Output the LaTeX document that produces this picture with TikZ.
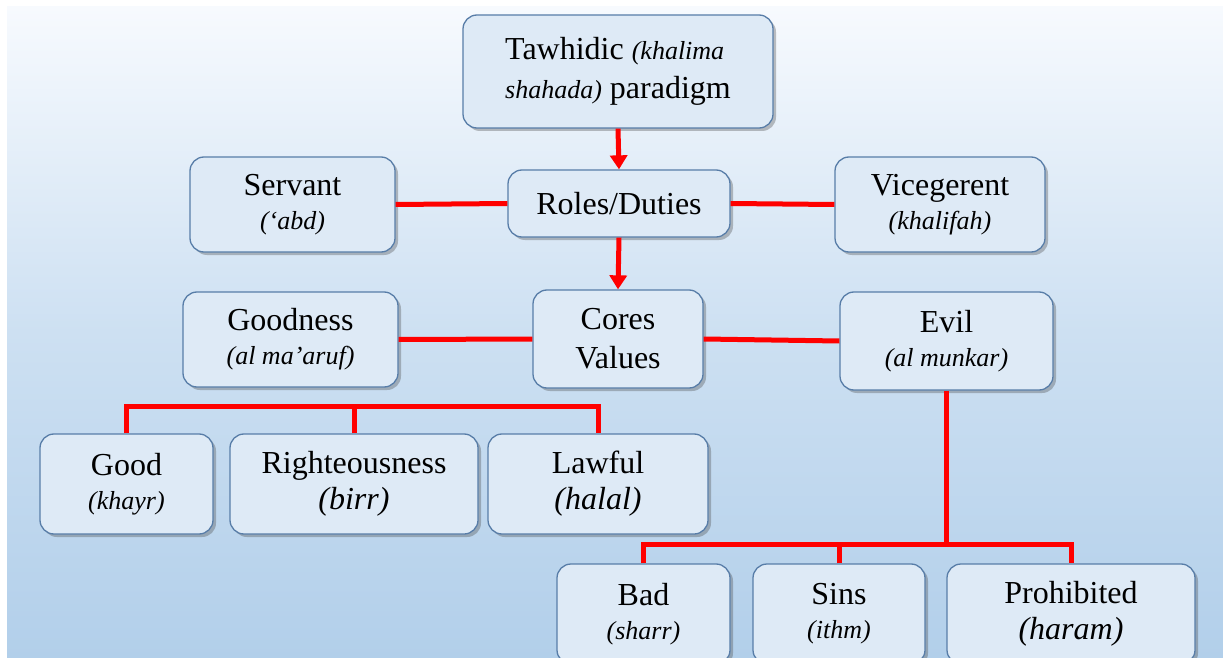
\documentclass[tikz,border=0pt]{standalone}
\usepackage{fontspec}
\setmainfont{Liberation Serif}
\usetikzlibrary{arrows.meta,shadows,calc}
\definecolor{boxfill}{RGB}{222,234,246}
\definecolor{boxline}{RGB}{88,125,168}
\definecolor{bgtop}{RGB}{247,250,254}
\definecolor{bgmid}{RGB}{205,224,242}
\definecolor{bgbot}{RGB}{178,207,234}
\definecolor{conred}{RGB}{255,0,0}
\newcommand\mainfs{\fontsize{32bp}{39bp}\selectfont}
\newcommand\smit[1]{{\fontsize{26bp}{32bp}\selectfont\itshape #1}}
\newcommand\bigit[1]{{\itshape #1}}
\newcommand\snl{\\[-5bp]}
\tikzset{
 box/.style={draw=boxline, line width=1.3bp, fill=boxfill, rounded corners=14bp,
   drop shadow={shadow xshift=3bp, shadow yshift=-3bp, opacity=0.35, fill=black!70},
   inner sep=0pt, font=\mainfs, align=center},
 conn/.style={draw=conred, line width=5bp},
 arr/.style={conn, -{Triangle[width=17bp,length=14bp]}},
}
\begin{document}
\begin{tikzpicture}[x=1bp,y=-1bp]
\useasboundingbox (0,0) rectangle (1223,658);
\shade[top color=bgtop, bottom color=bgbot, middle color=bgmid] (7,7) rectangle (1223,658);

\node[box, minimum width=310bp, minimum height=113bp, align=left] (taw) at (618,71.5)
  {Tawhidic \smit{(khalima}\\\smit{shahada)} paradigm};
\node[box, minimum width=205bp, minimum height=95bp] (serv) at (292.5,204.5)
  {Servant\snl\smit{(‘abd)}};
\node[box, minimum width=222bp, minimum height=67bp] (roles) at (619,203.5)
  {Roles/Duties};
\node[box, minimum width=210bp, minimum height=95bp] (vice) at (940,204.5)
  {Vicegerent\snl\smit{(khalifah)}};
\node[box, minimum width=215bp, minimum height=95bp] (goodn) at (290.5,339.5)
  {Goodness\snl\smit{(al ma’aruf)}};
\node[box, minimum width=170bp, minimum height=98bp] (cores) at (618,339)
  {Cores\\Values};
\node[box, minimum width=213bp, minimum height=98bp] (evil) at (946.5,341)
  {Evil\snl\smit{(al munkar)}};
\node[box, minimum width=173bp, minimum height=100bp] (good) at (126.5,484)
  {Good\snl\smit{(khayr)}};
\node[box, minimum width=248bp, minimum height=100bp] (right) at (354,484)
  {Righteousness\\[-3bp]\bigit{(birr)}};
\node[box, minimum width=220bp, minimum height=100bp] (lawful) at (598,484)
  {Lawful\\[-3bp]\bigit{(halal)}};
\node[box, minimum width=173bp, minimum height=100bp] (bad) at (643.5,614)
  {Bad\snl\smit{(sharr)}};
\node[box, minimum width=172bp, minimum height=100bp] (sins) at (839,614)
  {Sins\snl\smit{(ithm)}};
\node[box, minimum width=248bp, minimum height=100bp] (proh) at (1071,614)
  {Prohibited\\[-3bp]\bigit{(haram)}};

\draw[arr] (taw.south) -- (roles.north);
\draw[arr] (roles.south) -- (cores.north);
\draw[conn] (serv.east) -- (roles.west);
\draw[conn] (roles.east) -- (vice.west);
\draw[conn] (goodn.east) -- (cores.west);
\draw[conn] (cores.east) -- (evil.west);
\draw[conn] (good.north) -- ++(0,-27) -| (lawful.north);
\draw[conn] (right.north) -- ++(0,-27);
\draw[conn] (evil.south) -- ++(0,155) coordinate (ej);
\draw[conn] (bad.north) -- ++(0,-19) -| (proh.north);
\draw[conn] (sins.north) -- ++(0,-19);
\end{tikzpicture}
\end{document}
